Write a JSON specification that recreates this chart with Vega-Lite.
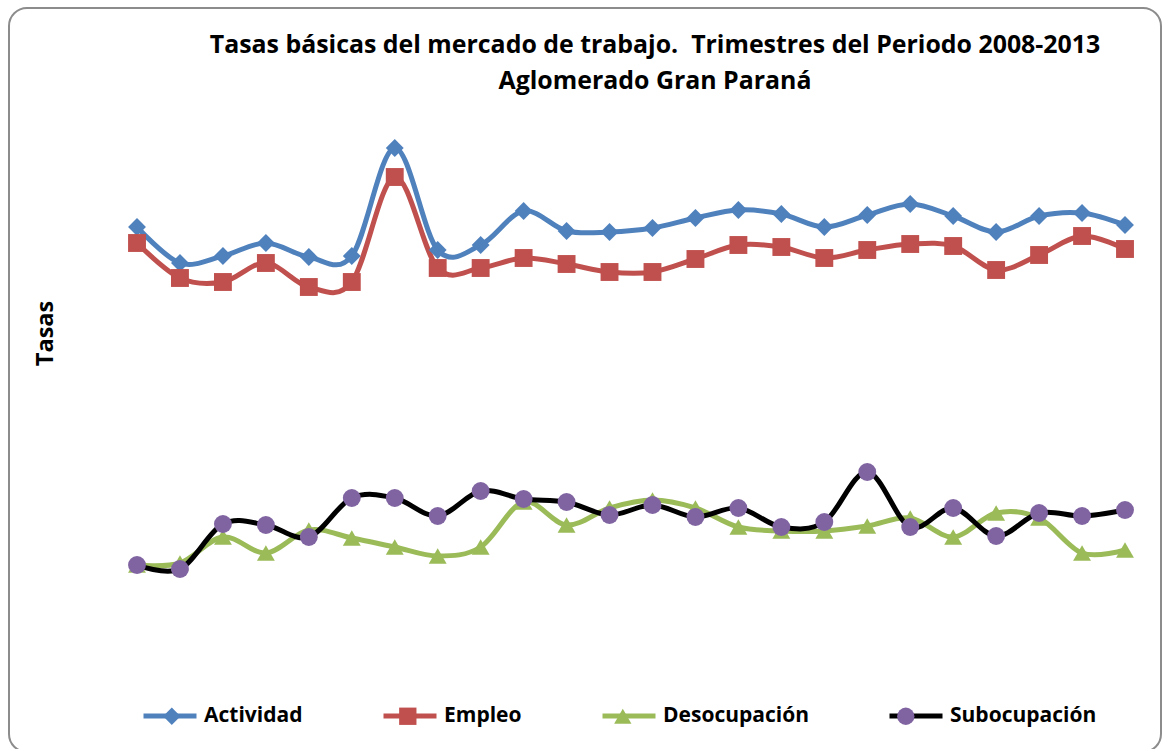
{
  "$schema": "https://vega.github.io/schema/vega-lite/v6.json",
  "autosize": "none",
  "width": 1152,
  "height": 744,
  "padding": {"left": 9, "top": 8, "right": 2, "bottom": 0},
  "background": "white",
  "config": {
    "view": {"stroke": "#8c8c8c", "strokeWidth": 2, "cornerRadius": 18},
    "font": "Open Sans"
  },
  "title": {
    "text": ["Tasas básicas del mercado de trabajo.\u00a0 Trimestres del Periodo 2008-2013", "Aglomerado Gran Paraná"],
    "anchor": "middle",
    "frame": "group",
    "dx": 70,
    "offset": -86,
    "font": "Open Sans",
    "fontSize": 24.9,
    "fontWeight": "bold",
    "lineHeight": 36,
    "color": "black"
  },
  "datasets": {
    "tasas": [
      {"trimestre": "2008-T1", "n": 1, "serie": "Actividad", "tasa": 53.3},
      {"trimestre": "2008-T2", "n": 2, "serie": "Actividad", "tasa": 49.7},
      {"trimestre": "2008-T3", "n": 3, "serie": "Actividad", "tasa": 50.4},
      {"trimestre": "2008-T4", "n": 4, "serie": "Actividad", "tasa": 51.7},
      {"trimestre": "2009-T1", "n": 5, "serie": "Actividad", "tasa": 50.3},
      {"trimestre": "2009-T2", "n": 6, "serie": "Actividad", "tasa": 50.4},
      {"trimestre": "2009-T3", "n": 7, "serie": "Actividad", "tasa": 61.2},
      {"trimestre": "2009-T4", "n": 8, "serie": "Actividad", "tasa": 51.0},
      {"trimestre": "2010-T1", "n": 9, "serie": "Actividad", "tasa": 51.5},
      {"trimestre": "2010-T2", "n": 10, "serie": "Actividad", "tasa": 54.9},
      {"trimestre": "2010-T3", "n": 11, "serie": "Actividad", "tasa": 52.9},
      {"trimestre": "2010-T4", "n": 12, "serie": "Actividad", "tasa": 52.8},
      {"trimestre": "2011-T1", "n": 13, "serie": "Actividad", "tasa": 53.2},
      {"trimestre": "2011-T2", "n": 14, "serie": "Actividad", "tasa": 54.2},
      {"trimestre": "2011-T3", "n": 15, "serie": "Actividad", "tasa": 55.0},
      {"trimestre": "2011-T4", "n": 16, "serie": "Actividad", "tasa": 54.6},
      {"trimestre": "2012-T1", "n": 17, "serie": "Actividad", "tasa": 53.3},
      {"trimestre": "2012-T2", "n": 18, "serie": "Actividad", "tasa": 54.5},
      {"trimestre": "2012-T3", "n": 19, "serie": "Actividad", "tasa": 55.6},
      {"trimestre": "2012-T4", "n": 20, "serie": "Actividad", "tasa": 54.4},
      {"trimestre": "2013-T1", "n": 21, "serie": "Actividad", "tasa": 52.8},
      {"trimestre": "2013-T2", "n": 22, "serie": "Actividad", "tasa": 54.4},
      {"trimestre": "2013-T3", "n": 23, "serie": "Actividad", "tasa": 54.7},
      {"trimestre": "2013-T4", "n": 24, "serie": "Actividad", "tasa": 53.5},
      {"trimestre": "2008-T1", "n": 1, "serie": "Empleo", "tasa": 51.7},
      {"trimestre": "2008-T2", "n": 2, "serie": "Empleo", "tasa": 48.2},
      {"trimestre": "2008-T3", "n": 3, "serie": "Empleo", "tasa": 47.8},
      {"trimestre": "2008-T4", "n": 4, "serie": "Empleo", "tasa": 49.7},
      {"trimestre": "2009-T1", "n": 5, "serie": "Empleo", "tasa": 47.3},
      {"trimestre": "2009-T2", "n": 6, "serie": "Empleo", "tasa": 47.8},
      {"trimestre": "2009-T3", "n": 7, "serie": "Empleo", "tasa": 58.3},
      {"trimestre": "2009-T4", "n": 8, "serie": "Empleo", "tasa": 49.2},
      {"trimestre": "2010-T1", "n": 9, "serie": "Empleo", "tasa": 49.2},
      {"trimestre": "2010-T2", "n": 10, "serie": "Empleo", "tasa": 50.2},
      {"trimestre": "2010-T3", "n": 11, "serie": "Empleo", "tasa": 49.6},
      {"trimestre": "2010-T4", "n": 12, "serie": "Empleo", "tasa": 48.8},
      {"trimestre": "2011-T1", "n": 13, "serie": "Empleo", "tasa": 48.8},
      {"trimestre": "2011-T2", "n": 14, "serie": "Empleo", "tasa": 50.1},
      {"trimestre": "2011-T3", "n": 15, "serie": "Empleo", "tasa": 51.5},
      {"trimestre": "2011-T4", "n": 16, "serie": "Empleo", "tasa": 51.3},
      {"trimestre": "2012-T1", "n": 17, "serie": "Empleo", "tasa": 50.2},
      {"trimestre": "2012-T2", "n": 18, "serie": "Empleo", "tasa": 51.0},
      {"trimestre": "2012-T3", "n": 19, "serie": "Empleo", "tasa": 51.6},
      {"trimestre": "2012-T4", "n": 20, "serie": "Empleo", "tasa": 51.4},
      {"trimestre": "2013-T1", "n": 21, "serie": "Empleo", "tasa": 49.0},
      {"trimestre": "2013-T2", "n": 22, "serie": "Empleo", "tasa": 50.5},
      {"trimestre": "2013-T3", "n": 23, "serie": "Empleo", "tasa": 52.4},
      {"trimestre": "2013-T4", "n": 24, "serie": "Empleo", "tasa": 51.1},
      {"trimestre": "2008-T1", "n": 1, "serie": "Desocupación", "tasa": 19.5},
      {"trimestre": "2008-T2", "n": 2, "serie": "Desocupación", "tasa": 19.7},
      {"trimestre": "2008-T3", "n": 3, "serie": "Desocupación", "tasa": 22.3},
      {"trimestre": "2008-T4", "n": 4, "serie": "Desocupación", "tasa": 20.7},
      {"trimestre": "2009-T1", "n": 5, "serie": "Desocupación", "tasa": 23.0},
      {"trimestre": "2009-T2", "n": 6, "serie": "Desocupación", "tasa": 22.2},
      {"trimestre": "2009-T3", "n": 7, "serie": "Desocupación", "tasa": 21.3},
      {"trimestre": "2009-T4", "n": 8, "serie": "Desocupación", "tasa": 20.4},
      {"trimestre": "2010-T1", "n": 9, "serie": "Desocupación", "tasa": 21.3},
      {"trimestre": "2010-T2", "n": 10, "serie": "Desocupación", "tasa": 25.8},
      {"trimestre": "2010-T3", "n": 11, "serie": "Desocupación", "tasa": 23.5},
      {"trimestre": "2010-T4", "n": 12, "serie": "Desocupación", "tasa": 25.2},
      {"trimestre": "2011-T1", "n": 13, "serie": "Desocupación", "tasa": 26.0},
      {"trimestre": "2011-T2", "n": 14, "serie": "Desocupación", "tasa": 25.2},
      {"trimestre": "2011-T3", "n": 15, "serie": "Desocupación", "tasa": 23.3},
      {"trimestre": "2011-T4", "n": 16, "serie": "Desocupación", "tasa": 22.9},
      {"trimestre": "2012-T1", "n": 17, "serie": "Desocupación", "tasa": 22.9},
      {"trimestre": "2012-T2", "n": 18, "serie": "Desocupación", "tasa": 23.4},
      {"trimestre": "2012-T3", "n": 19, "serie": "Desocupación", "tasa": 24.2},
      {"trimestre": "2012-T4", "n": 20, "serie": "Desocupación", "tasa": 22.3},
      {"trimestre": "2013-T1", "n": 21, "serie": "Desocupación", "tasa": 24.7},
      {"trimestre": "2013-T2", "n": 22, "serie": "Desocupación", "tasa": 24.2},
      {"trimestre": "2013-T3", "n": 23, "serie": "Desocupación", "tasa": 20.7},
      {"trimestre": "2013-T4", "n": 24, "serie": "Desocupación", "tasa": 21.0},
      {"trimestre": "2008-T1", "n": 1, "serie": "Subocupación", "tasa": 19.5},
      {"trimestre": "2008-T2", "n": 2, "serie": "Subocupación", "tasa": 19.1},
      {"trimestre": "2008-T3", "n": 3, "serie": "Subocupación", "tasa": 23.6},
      {"trimestre": "2008-T4", "n": 4, "serie": "Subocupación", "tasa": 23.5},
      {"trimestre": "2009-T1", "n": 5, "serie": "Subocupación", "tasa": 22.3},
      {"trimestre": "2009-T2", "n": 6, "serie": "Subocupación", "tasa": 26.2},
      {"trimestre": "2009-T3", "n": 7, "serie": "Subocupación", "tasa": 26.2},
      {"trimestre": "2009-T4", "n": 8, "serie": "Subocupación", "tasa": 24.4},
      {"trimestre": "2010-T1", "n": 9, "serie": "Subocupación", "tasa": 26.9},
      {"trimestre": "2010-T2", "n": 10, "serie": "Subocupación", "tasa": 26.1},
      {"trimestre": "2010-T3", "n": 11, "serie": "Subocupación", "tasa": 25.8},
      {"trimestre": "2010-T4", "n": 12, "serie": "Subocupación", "tasa": 24.5},
      {"trimestre": "2011-T1", "n": 13, "serie": "Subocupación", "tasa": 25.5},
      {"trimestre": "2011-T2", "n": 14, "serie": "Subocupación", "tasa": 24.3},
      {"trimestre": "2011-T3", "n": 15, "serie": "Subocupación", "tasa": 25.2},
      {"trimestre": "2011-T4", "n": 16, "serie": "Subocupación", "tasa": 23.3},
      {"trimestre": "2012-T1", "n": 17, "serie": "Subocupación", "tasa": 23.8},
      {"trimestre": "2012-T2", "n": 18, "serie": "Subocupación", "tasa": 28.8},
      {"trimestre": "2012-T3", "n": 19, "serie": "Subocupación", "tasa": 23.3},
      {"trimestre": "2012-T4", "n": 20, "serie": "Subocupación", "tasa": 25.2},
      {"trimestre": "2013-T1", "n": 21, "serie": "Subocupación", "tasa": 22.4},
      {"trimestre": "2013-T2", "n": 22, "serie": "Subocupación", "tasa": 24.7},
      {"trimestre": "2013-T3", "n": 23, "serie": "Subocupación", "tasa": 24.4},
      {"trimestre": "2013-T4", "n": 24, "serie": "Subocupación", "tasa": 25.0}
    ]
  },
  "data": {"name": "tasas"},
  "encoding": {
    "x": {
      "field": "n",
      "type": "quantitative",
      "title": "Trimestre",
      "scale": {"domain": [-1.98, 24.838], "nice": false, "zero": false},
      "axis": null
    },
    "y": {
      "field": "tasa",
      "type": "quantitative",
      "scale": {"domain": [0.8, 75.2]},
      "axis": {
        "title": "Tasas",
        "labels": false,
        "ticks": false,
        "domain": false,
        "grid": false,
        "titleX": 43,
        "titleY": 325,
        "titleAngle": -90,
        "titleAlign": "center",
        "titleBaseline": "alphabetic",
        "titleFont": "Open Sans",
        "titleFontSize": 23.5,
        "titleFontWeight": "bold",
        "titleColor": "black"
      }
    }
  },
  "layer": [
    {
      "mark": {"type": "line", "interpolate": "cardinal", "strokeWidth": 5, "strokeCap": "round"},
      "encoding": {
        "stroke": {
          "field": "serie",
          "type": "nominal",
          "sort": ["Actividad", "Empleo", "Desocupación", "Subocupación"],
          "scale": {
            "range": ["#4F81BD", "#C0504D", "#9BBB59", "#000000"]
          },
          "legend": {
            "orient": "none",
            "direction": "horizontal",
            "legendX": 132,
            "legendY": 679,
            "title": null,
            "padding": 0,
            "symbolType": "stroke",
            "symbolSize": 2809,
            "symbolStrokeWidth": 5,
            "labelFont": "Open Sans",
            "labelFontSize": 21,
            "labelFontWeight": "bold",
            "labelColor": "black",
            "labelOffset": 5,
            "columnPadding": 70
          }
        }
      }
    },
    {
      "mark": {"type": "point", "filled": true, "opacity": 1, "size": 320, "strokeWidth": 0},
      "encoding": {
        "fill": {
          "field": "serie",
          "type": "nominal",
          "scale": {
            "domain": ["Actividad", "Empleo", "Desocupación", "Subocupación"],
            "range": ["#4F81BD", "#C0504D", "#9BBB59", "#8064A2"]
          },
          "legend": {
            "orient": "none",
            "direction": "horizontal",
            "legendX": 152.3,
            "legendY": 697.5,
            "title": null,
            "padding": 0,
            "symbolSize": 300,
            "symbolStrokeWidth": 0,
            "symbolOpacity": 1,
            "labelFont": "Open Sans",
            "labelFontSize": 21,
            "labelFontWeight": "bold",
            "labelOpacity": 0,
            "labelOffset": 45.7,
            "columnPadding": 70
          }
        },
        "shape": {
          "field": "serie",
          "type": "nominal",
          "scale": {
            "domain": ["Actividad", "Empleo", "Desocupación", "Subocupación"],
            "range": ["diamond", "square", "triangle-up", "circle"]
          },
          "legend": {
            "orient": "none",
            "direction": "horizontal",
            "legendX": 152.3,
            "legendY": 697.5,
            "title": null,
            "padding": 0,
            "symbolSize": 300,
            "symbolStrokeWidth": 0,
            "symbolOpacity": 1,
            "labelFont": "Open Sans",
            "labelFontSize": 21,
            "labelFontWeight": "bold",
            "labelOpacity": 0,
            "labelOffset": 45.7,
            "columnPadding": 70
          }
        }
      }
    }
  ]
}
